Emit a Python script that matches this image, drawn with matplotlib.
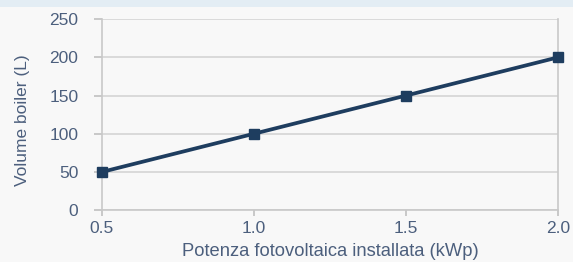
import matplotlib.pyplot as plt
from matplotlib.patches import Rectangle

potenza = [0.5, 1.0, 1.5, 2.0]
volume = [50, 100, 150, 200]
x_ticks = [0.5, 1.0, 1.5, 2.0]
y_ticks = [0, 50, 100, 150, 200, 250]

text_col = "#4c5f7d"
line_col = "#1e3d5f"
grid_col = "#d4d4d4"

plt.rcParams['font.family'] = ['Liberation Sans', 'DejaVu Sans']

fig = plt.figure(figsize=(5.73, 2.62), dpi=100, facecolor="#f8f8f8")
# light blue strip along the top edge
fig.patches.append(Rectangle((0, 0.975), 1, 0.025, transform=fig.transFigure,
                             facecolor="#e3edf4", edgecolor="none"))

ax = fig.add_axes([0.178, 0.198, 0.796, 0.729])
ax.set_facecolor("#f8f8f8")

ax.plot(potenza, volume, color=line_col, linewidth=2.7, marker="s",
        markersize=7, zorder=5, clip_on=False)

ax.set_xlim(0.5, 2.0)
ax.set_ylim(0, 250)
ax.set_xticks(x_ticks)
ax.set_xticklabels(["%.1f" % v for v in x_ticks])
ax.set_yticks(y_ticks)

ax.grid(axis="y", color=grid_col, linewidth=1.2)
ax.set_axisbelow(True)
ax.spines["top"].set_visible(False)
for s in ["left", "right", "bottom"]:
    ax.spines[s].set_color("#c8c8c8")
    ax.spines[s].set_linewidth(1.2)

ax.tick_params(axis="both", colors="#c0c0c0", labelcolor=text_col, labelsize=12.5,
               width=1.2)
ax.tick_params(axis="y", length=6, pad=11)
ax.tick_params(axis="x", length=4, pad=4)

ax.set_xlabel("Potenza fotovoltaica installata (kWp)", color=text_col, fontsize=13.2, labelpad=5)
ax.set_ylabel("Volume boiler (L)", color=text_col, fontsize=12.5)
ax.yaxis.set_label_coords(-0.157, 0.47)

fig.savefig("out.png", dpi=100, facecolor=fig.get_facecolor())
